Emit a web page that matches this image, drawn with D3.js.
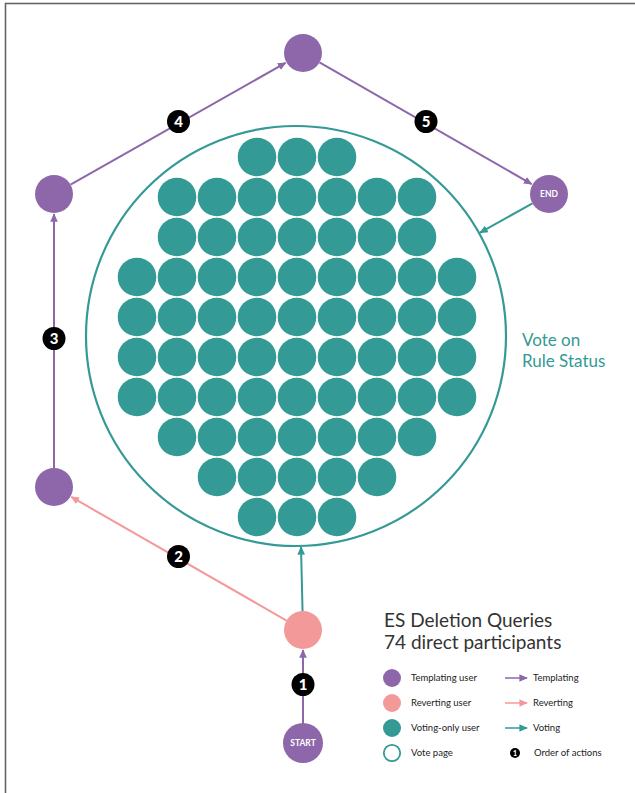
<!DOCTYPE html>
<html>
<head>
<meta charset="utf-8">
<script src="https://cdn.jsdelivr.net/npm/d3@7"></script>
<style>
  body { margin: 0; background: #fff; }
  svg { display: block; }
</style>
</head>
<body>
<script>
// voting-only users, counted row by row inside the vote page circle
var votingRows = [3, 7, 7, 9, 9, 9, 9, 7, 5, 3];

// people who templated / reverted, in order of actions
var actors = [
  { id: "start", role: "templating", label: "START" },
  { id: "rev", role: "reverting", label: "" },
  { id: "lb", role: "templating", label: "" },
  { id: "lt", role: "templating", label: "" },
  { id: "top", role: "templating", label: "" },
  { id: "end", role: "templating", label: "END" }
];

var actions = [
  { from: "start", to: "rev", kind: "templating", order: 1 },
  { from: "rev", to: "lb", kind: "reverting", order: 2 },
  { from: "lb", to: "lt", kind: "templating", order: 3 },
  { from: "lt", to: "top", kind: "templating", order: 4 },
  { from: "top", to: "end", kind: "templating", order: 5 },
  { from: "rev", to: "vote", kind: "voting", order: null },
  { from: "end", to: "vote", kind: "voting", order: null }
];

var titleLines = ["ES Deletion Queries", "74 direct participants"];
var voteLabel = ["Vote on", "Rule Status"];

var legendNodes = ["Templating user", "Reverting user", "Voting-only user", "Vote page"];
var legendLines = ["Templating", "Reverting", "Voting"];

var W = 635, H = 793;
var colors = { templating: "#8e67ab", reverting: "#f4999a", voting: "#339a95" };
var font = "Lato, 'Open Sans', sans-serif";

// layout of the diagram
var pos = {
  start: [303, 743], rev: [303, 630], lb: [54, 487],
  lt: [54, 194], top: [303, 53], end: [549, 194]
};
var vote = { cx: 296, cy: 336, r: 210 };
var nodeR = 19;

var svg = d3.select("body").append("svg")
    .attr("width", W)
    .attr("height", H);

svg.append("rect")
    .attr("x", 5.5).attr("y", 3.5)
    .attr("width", W + 10).attr("height", H + 10)
    .attr("fill", "none")
    .attr("stroke", "#666")
    .attr("stroke-width", 1.6);

var defs = svg.append("defs");
Object.keys(colors).forEach(function(k) {
  defs.append("marker")
      .attr("id", "arrow-" + k)
      .attr("viewBox", "0 -5 10 10")
      .attr("refX", 9).attr("refY", 0)
      .attr("markerUnits", "userSpaceOnUse")
      .attr("markerWidth", 8.5).attr("markerHeight", 8.5)
      .attr("orient", "auto")
    .append("path")
      .attr("d", "M0,-4.5L10,0L0,4.5Z")
      .attr("fill", colors[k]);
});

// vote page
svg.append("circle")
    .attr("cx", vote.cx).attr("cy", vote.cy).attr("r", vote.r)
    .attr("fill", "none")
    .attr("stroke", colors.voting)
    .attr("stroke-width", 2.2);

var dots = [];
votingRows.forEach(function(n, row) {
  for (var i = 0; i < n; i++) dots.push({ row: row, col: i - (n - 1) / 2 });
});

var xDot = d3.scaleLinear().domain([-4, 4]).range([137, 457]);
var yDot = d3.scaleLinear().domain([0, votingRows.length - 1]).range([157, 517]);

svg.selectAll("circle.voter")
    .data(dots)
    .enter()
    .append("circle")
    .attr("class", "voter")
    .attr("cx", function(d) { return xDot(d.col); })
    .attr("cy", function(d) { return yDot(d.row); })
    .attr("r", 19.3)
    .attr("fill", colors.voting);

// edges
function endpoints(e) {
  var a = pos[e.from];
  var b, rb;
  if (e.to == "vote") {
    var dx = vote.cx - a[0], dy = vote.cy - a[1];
    var len = Math.sqrt(dx * dx + dy * dy);
    b = [vote.cx - dx / len * (vote.r + 1), vote.cy - dy / len * (vote.r + 1)];
    rb = 0;
  } else {
    b = pos[e.to];
    rb = nodeR + 1;
  }
  var ux = b[0] - a[0], uy = b[1] - a[1];
  var L = Math.sqrt(ux * ux + uy * uy);
  ux /= L; uy /= L;
  return [a[0] + ux * nodeR, a[1] + uy * nodeR, b[0] - ux * rb, b[1] - uy * rb];
}

svg.selectAll("line.edge")
    .data(actions)
    .enter()
    .append("line")
    .attr("class", "edge")
    .attr("x1", function(d) { return endpoints(d)[0]; })
    .attr("y1", function(d) { return endpoints(d)[1]; })
    .attr("x2", function(d) { return endpoints(d)[2]; })
    .attr("y2", function(d) { return endpoints(d)[3]; })
    .attr("stroke", function(d) { return colors[d.kind]; })
    .attr("stroke-width", 2)
    .attr("marker-end", function(d) { return "url(#arrow-" + d.kind + ")"; });

// nodes
var nodes = svg.selectAll("g.node")
    .data(actors)
    .enter()
    .append("g")
    .attr("class", "node")
    .attr("transform", function(d) { return "translate(" + pos[d.id] + ")"; });

nodes.append("circle")
    .attr("r", function(d) { return d.id == "start" ? 20 : nodeR; })
    .attr("fill", function(d) { return colors[d.role]; });

nodes.append("text")
    .attr("text-anchor", "middle")
    .attr("dy", "0.35em")
    .attr("fill", "#fff")
    .attr("font-family", font)
    .attr("font-weight", "bold")
    .attr("font-size", 8.5)
    .text(function(d) { return d.label; });

// order of actions badges
var ordered = actions.filter(function(d) { return d.order != null; });
var badges = svg.selectAll("g.badge")
    .data(ordered)
    .enter()
    .append("g")
    .attr("class", "badge")
    .attr("transform", function(d) {
      var a = pos[d.from], b = pos[d.to];
      return "translate(" + [(a[0] + b[0]) / 2, (a[1] + b[1]) / 2 - 2] + ")";
    });

badges.append("circle").attr("r", 11.5).attr("fill", "#000");
badges.append("text")
    .attr("text-anchor", "middle")
    .attr("dy", "0.36em")
    .attr("fill", "#fff")
    .attr("font-family", font)
    .attr("font-weight", "900")
    .attr("font-size", 15)
    .text(function(d) { return d.order; });

// vote page label
svg.append("text")
    .attr("x", 522).attr("y", 346)
    .attr("fill", colors.voting)
    .attr("font-family", font)
    .attr("font-size", 17)
    .selectAll("tspan")
    .data(voteLabel)
    .enter()
    .append("tspan")
    .attr("x", 522)
    .attr("dy", function(d, i) { return i ? 21 : 0; })
    .text(function(d) { return d; });

// title
svg.append("text")
    .attr("fill", "#333")
    .attr("font-family", font)
    .attr("font-size", 19)
    .selectAll("tspan")
    .data(titleLines)
    .enter()
    .append("tspan")
    .attr("x", 384)
    .attr("y", function(d, i) { return 627 + i * 22; })
    .text(function(d) { return d; });

// legend
var legY = d3.scalePoint().domain(d3.range(4)).range([678, 753]);

var ln = svg.selectAll("g.leg-node")
    .data(legendNodes)
    .enter()
    .append("g")
    .attr("class", "leg-node")
    .attr("transform", function(d, i) { return "translate(392," + legY(i) + ")"; });

ln.append("circle")
    .attr("r", function(d, i) { return i == 3 ? 8.2 : 9; })
    .attr("fill", function(d, i) { return i == 3 ? "#fff" : [colors.templating, colors.reverting, colors.voting][i]; })
    .attr("stroke", function(d, i) { return i == 3 ? colors.voting : "none"; })
    .attr("stroke-width", 1.8);

ln.append("text")
    .attr("x", 19)
    .attr("dy", "0.35em")
    .attr("fill", "#222")
    .attr("font-family", font)
    .attr("font-size", 9.5)
    .text(function(d) { return d; });

var ll = svg.selectAll("g.leg-line")
    .data(legendLines)
    .enter()
    .append("g")
    .attr("class", "leg-line")
    .attr("transform", function(d, i) { return "translate(505," + legY(i) + ")"; });

ll.append("line")
    .attr("x1", 0).attr("x2", 22)
    .attr("stroke", function(d) { return colors[d.toLowerCase()]; })
    .attr("stroke-width", 1.5)
    .attr("marker-end", function(d) { return "url(#arrow-" + d.toLowerCase() + ")"; });

ll.append("text")
    .attr("x", 28)
    .attr("dy", "0.35em")
    .attr("fill", "#222")
    .attr("font-family", font)
    .attr("font-size", 9.5)
    .text(function(d) { return d; });

var lo = svg.append("g").attr("transform", "translate(515," + legY(3) + ")");
lo.append("circle").attr("r", 5).attr("fill", "#000");
lo.append("text")
    .attr("text-anchor", "middle")
    .attr("dy", "0.36em")
    .attr("fill", "#fff")
    .attr("font-family", font)
    .attr("font-weight", "900")
    .attr("font-size", 7)
    .text("1");
lo.append("text")
    .attr("x", 19)
    .attr("dy", "0.35em")
    .attr("fill", "#222")
    .attr("font-family", font)
    .attr("font-size", 9.5)
    .text("Order of actions");
</script>
</body>
</html>
